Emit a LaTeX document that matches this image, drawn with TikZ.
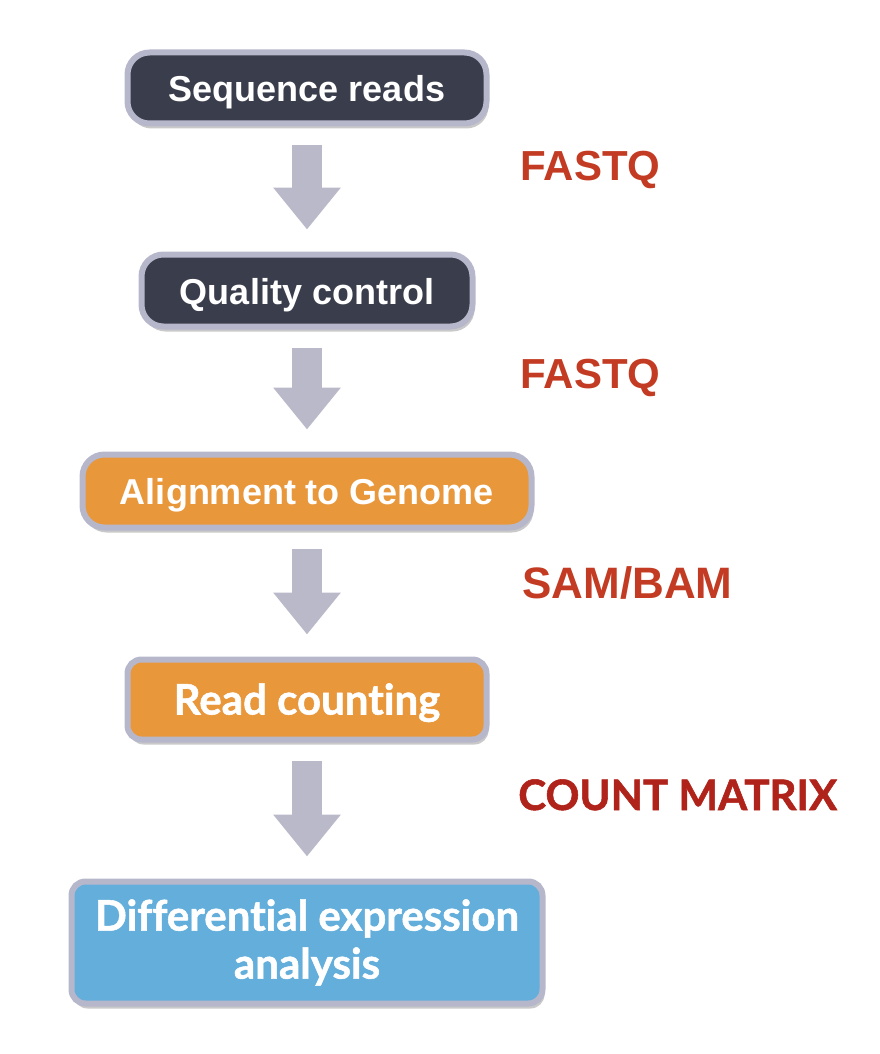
\documentclass[tikz,border=0pt]{standalone}
\usepackage{fontspec}
\setmainfont{Liberation Sans}
\newfontfamily\latofont{Lato}[Ligatures=NoCommon, BoldFeatures={FakeBold=1.3}]
\usetikzlibrary{
positioning,
arrows.meta,
shadows,
}
\definecolor{slate}{HTML}{3A3D4B}
\definecolor{rim}{HTML}{B7B7CB}
\definecolor{amber}{HTML}{E8973B}
\definecolor{sky}{HTML}{63AEDB}
\definecolor{flow}{HTML}{B9B9C9}
\definecolor{fmtred}{HTML}{C23B22}
\definecolor{cmxred}{HTML}{B0231A}
\tikzset{
node distance=125pt,
outer sep=auto,
every node/.style={align=center},
stage/.style={rectangle, rounded corners=22pt, draw=rim, line width=6pt,
  inner sep=0pt, text=white, font=\bfseries\fontsize{36}{46}\selectfont,
  drop shadow={shadow xshift=2pt, shadow yshift=-5pt, opacity=0.3, fill=black!70}},
oneline/.style={text height=27pt, text depth=0pt},
boxstage/.style={stage, rounded corners=14pt, font=\latofont\bfseries\fontsize{42}{48}\selectfont},
seqstage/.style={stage, oneline, fill=slate},
alnstage/.style={stage, oneline, fill=amber},
cntstage/.style={boxstage, oneline, text height=30pt, fill=amber},
destage/.style={boxstage, fill=sky},
fileformat/.style={anchor=base west, text=fmtred, font=\bfseries\fontsize{42}{46}\selectfont},
matrixformat/.style={anchor=base west, text=cmxred, font=\latofont\bfseries\fontsize{42}{50}\selectfont},
flowarrow/.style={draw=flow, line width=30pt, -{Triangle[length=42pt, width=65pt]},
  shorten <=18pt, shorten >=22pt},
}

\begin{document}
\begin{tikzpicture}[x=1pt, y=-1pt]
\useasboundingbox (0,0) rectangle (880,1054);
\node (seq) [seqstage, minimum width=359pt, minimum height=71pt] at (307,88) {Sequence reads};
\node (qc) [seqstage, minimum width=331pt, minimum height=72pt, below=125pt of seq] {Quality control};
\node (aln) [alnstage, minimum width=449pt, minimum height=73pt, below=122pt of qc] {Alignment to Genome};
\node (cnt) [cntstage, minimum width=359pt, minimum height=80pt, below=126pt of aln] {Read counting};
\node (de) [destage, minimum width=471pt, minimum height=122pt, below=136pt of cnt] {Differential expression\\analysis};
% arrows between stages
\foreach \a/\b in {seq/qc, qc/aln, aln/cnt, cnt/de}
  \draw [flowarrow] (\a.south) -- (\b.north);
% file formats
\node (fq1) [fileformat] at (517,180) {FASTQ};
\node (fq2) [fileformat] at (517,388) {FASTQ};
\node (sam) [fileformat, font=\bfseries\fontsize{44}{46}\selectfont] at (519,598) {SAM/BAM};
\node (cm) [matrixformat] at (515,810) {COUNT MATRIX};
\end{tikzpicture}
\end{document}
